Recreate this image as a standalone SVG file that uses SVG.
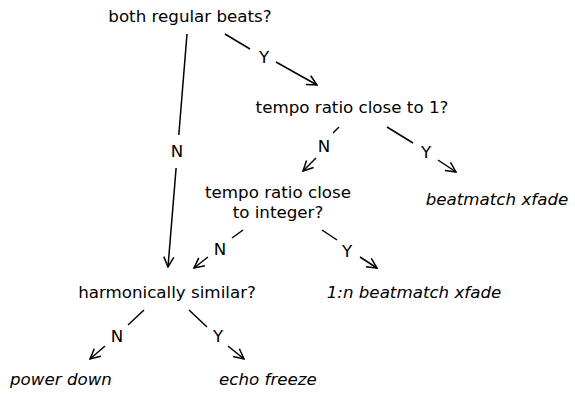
<svg xmlns="http://www.w3.org/2000/svg" width="575" height="396" viewBox="0 0 575 396">
  <style>
    text { font-family: "DejaVu Sans", Verdana, sans-serif; font-size: 16.7px; fill: #000; }
    .q { text-anchor: middle; }
    .o { font-style: italic; }
    .lbl { text-anchor: middle; }
    .edge { stroke: #000; stroke-width: 1.5; fill: none; }
  </style>
  <defs>
    <marker id="arrow" viewBox="0 0 12 12" refX="11" refY="6" markerWidth="12" markerHeight="12" markerUnits="userSpaceOnUse" orient="auto">
      <path d="M1,1 L11,6 L1,11" fill="none" stroke="#000" stroke-width="1.5"/>
    </marker>
  </defs>

  <g id="connectors">
    <!-- both regular beats? -> harmonically similar? (N) -->
    <line class="edge" x1="187" y1="34" x2="178.8" y2="135"/>
    <line class="edge" x1="176.1" y1="168" x2="168" y2="267" marker-end="url(#arrow)"/>
    <text class="lbl" x="177" y="157">N</text>
    <!-- both regular beats? -> tempo ratio close to 1? (Y) -->
    <line class="edge" x1="225" y1="34" x2="250" y2="49"/>
    <line class="edge" x1="276" y1="62" x2="317" y2="85" marker-end="url(#arrow)"/>
    <text class="lbl" x="264" y="63">Y</text>
    <!-- tempo ratio close to 1? -> tempo ratio close to integer? (N) -->
    <line class="edge" x1="339" y1="127" x2="333" y2="133"/>
    <line class="edge" x1="316" y1="158" x2="303" y2="171" marker-end="url(#arrow)"/>
    <text class="lbl" x="324" y="152">N</text>
    <!-- tempo ratio close to 1? -> beatmatch xfade (Y) -->
    <line class="edge" x1="387" y1="127" x2="413" y2="143"/>
    <line class="edge" x1="438" y1="160" x2="456" y2="172" marker-end="url(#arrow)"/>
    <text class="lbl" x="426" y="158">Y</text>
    <!-- tempo ratio close to integer? -> harmonically similar? (N) -->
    <line class="edge" x1="243" y1="230" x2="232" y2="238"/>
    <line class="edge" x1="208" y1="257" x2="194" y2="268" marker-end="url(#arrow)"/>
    <text class="lbl" x="220" y="255">N</text>
    <!-- tempo ratio close to integer? -> 1:n beatmatch xfade (Y) -->
    <line class="edge" x1="322" y1="230" x2="337" y2="240"/>
    <line class="edge" x1="360" y1="257" x2="377" y2="268" marker-end="url(#arrow)"/>
    <text class="lbl" x="347" y="257">Y</text>
    <!-- harmonically similar? -> power down (N) -->
    <line class="edge" x1="144" y1="310" x2="128" y2="325"/>
    <line class="edge" x1="105" y1="346" x2="90" y2="359" marker-end="url(#arrow)"/>
    <text class="lbl" x="117" y="342">N</text>
    <!-- harmonically similar? -> echo freeze (Y) -->
    <line class="edge" x1="189" y1="310" x2="207" y2="327"/>
    <line class="edge" x1="228" y1="346" x2="244" y2="359" marker-end="url(#arrow)"/>
    <text class="lbl" x="218" y="342">Y</text>
  </g>

  <g id="both-regular-beats">
    <text class="q" x="190" y="22">both regular beats?</text>
  </g>
  <g id="tempo-ratio-1">
    <text class="q" x="352" y="113">tempo ratio close to 1?</text>
  </g>
  <g id="beatmatch-xfade">
    <text class="q o" x="497" y="205">beatmatch xfade</text>
  </g>
  <g id="tempo-ratio-integer">
    <text class="q" x="278" y="198">tempo ratio close</text>
    <text class="q" x="278" y="218">to integer?</text>
  </g>
  <g id="harmonically-similar">
    <text class="q" x="167" y="298">harmonically similar?</text>
  </g>
  <g id="one-n-beatmatch-xfade">
    <text class="q o" x="414" y="298">1:n beatmatch xfade</text>
  </g>
  <g id="power-down">
    <text class="o" x="10" y="385">power down</text>
  </g>
  <g id="echo-freeze">
    <text class="o" x="219" y="385">echo freeze</text>
  </g>
</svg>
